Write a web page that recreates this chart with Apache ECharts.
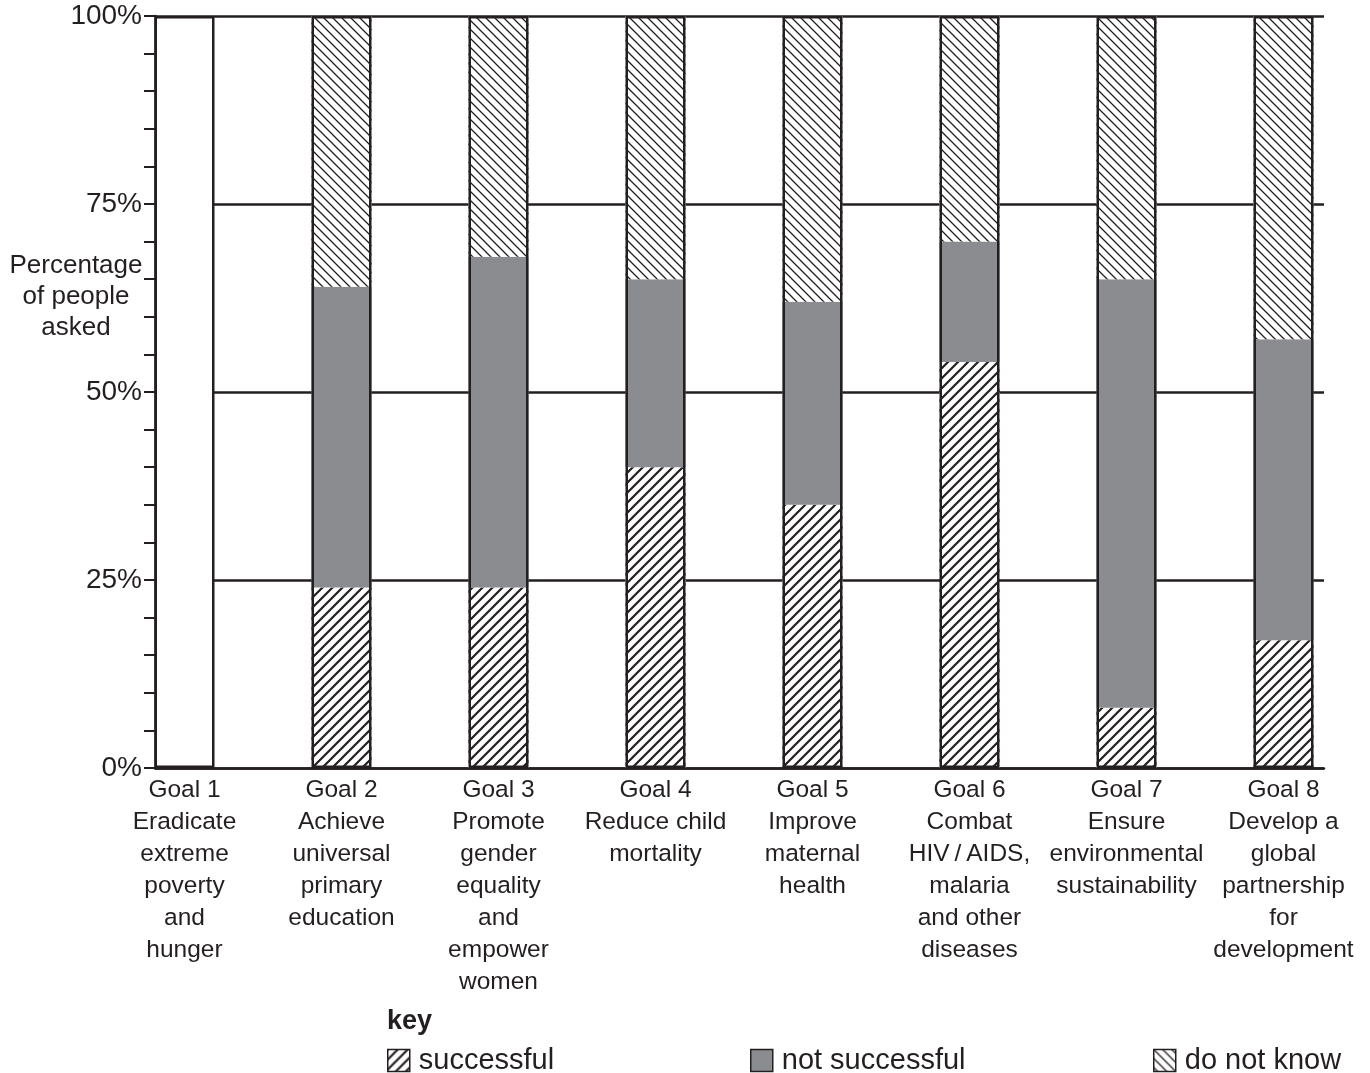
<!DOCTYPE html>
<html>
<head>
<meta charset="utf-8">
<script src="https://cdn.jsdelivr.net/npm/echarts@6/dist/echarts.min.js"></script>
<style>
html,body{margin:0;padding:0;background:#fff;}
#chart{width:1370px;height:1073px;}
</style>
</head>
<body>
<div id="chart"></div>
<script>
// ---- data ----
const categories = [
  'Goal 1\nEradicate\nextreme\npoverty\nand\nhunger',
  'Goal 2\nAchieve\nuniversal\nprimary\neducation',
  'Goal 3\nPromote\ngender\nequality\nand\nempower\nwomen',
  'Goal 4\nReduce child\nmortality',
  'Goal 5\nImprove\nmaternal\nhealth',
  'Goal 6\nCombat\nHIV\u2009/\u2009AIDS,\nmalaria\nand other\ndiseases',
  'Goal 7\nEnsure\nenvironmental\nsustainability',
  'Goal 8\nDevelop a\nglobal\npartnership\nfor\ndevelopment'
];
const successful    = [null, 24, 24, 40, 35, 54,  8, 17];
const notSuccessful = [null, 40, 44, 25, 27, 16, 57, 40];
const doNotKnow     = [null, 36, 32, 35, 38, 30, 35, 43];
const columnTotal   = [100, 100, 100, 100, 100, 100, 100, 100];
const seriesNames = ['successful', 'not successful', 'do not know'];
const yAxisTitle = 'Percentage\nof people\nasked';
const keyTitle = 'key';

// ---- styles ----
const INK = '#231f20';
const GRAY = '#8b8c8f';
const FONT = '"Liberation Sans", Arial, Helvetica, sans-serif';

function hatch(period, lw, up) {
  const c = document.createElement('canvas');
  c.width = period; c.height = period;
  const ctx = c.getContext('2d');
  ctx.fillStyle = '#fff';
  ctx.fillRect(0, 0, period, period);
  ctx.strokeStyle = INK;
  ctx.lineWidth = lw;
  ctx.beginPath();
  for (let k = -1; k <= 1; k++) {
    const x0 = k * period;
    if (up) { ctx.moveTo(x0 - 2, period + 2); ctx.lineTo(x0 + period + 2, -2); }
    else    { ctx.moveTo(x0 - 2, -2); ctx.lineTo(x0 + period + 2, period + 2); }
  }
  ctx.stroke();
  return { image: c, repeat: 'repeat' };
}
const hatchSuccess = hatch(10, 2.2, true);
const hatchUnknown = hatch(9, 1.3, false);

const chart = echarts.init(document.getElementById('chart'), null, { renderer: 'canvas' });

const legendCommon = {
  orient: 'horizontal', padding: 0, itemWidth: 22, itemHeight: 22, icon: 'rect',
  selectedMode: false,
  itemStyle: { borderColor: INK, borderWidth: 1.5 },
  textStyle: { fontSize: 29, color: INK, fontFamily: FONT, padding: [0, 0, 0, 4] }
};

const BAR_W = 60;

const option = {
  animation: false,
  backgroundColor: '#fff',
  title: {
    text: keyTitle, left: 387, top: 1008, padding: 0,
    textStyle: { fontSize: 27, fontWeight: 'bold', color: INK, fontFamily: FONT }
  },
  legend: [
    Object.assign({}, legendCommon, { data: [seriesNames[0]], left: 387, top: 1046 }),
    Object.assign({}, legendCommon, { data: [seriesNames[1]], left: 750, top: 1046 }),
    Object.assign({}, legendCommon, { data: [seriesNames[2]], left: 1153, top: 1046 })
  ],
  grid: [
    { left: 155, right: 46, top: 16, bottom: 305, containLabel: false, outerBoundsMode: 'none' },
    { left: 106, right: 8, top: 16, bottom: 305, containLabel: false, outerBoundsMode: 'none' }
  ],
  xAxis: [
    {
      gridIndex: 0, type: 'value', min: 0, max: 1,
      axisLine: { show: true, onZero: false, lineStyle: { color: INK, width: 2.5 } },
      axisTick: { show: false }, axisLabel: { show: false }, splitLine: { show: false }
    },
    {
      gridIndex: 1, type: 'category', data: categories,
      axisLine: { show: false }, axisTick: { show: false }, splitLine: { show: false },
      axisLabel: {
        interval: 0, fontSize: 24.5, lineHeight: 32, color: INK, fontFamily: FONT,
        margin: 6, align: 'center'
      }
    }
  ],
  yAxis: [
    {
      gridIndex: 0, type: 'value', min: 0, max: 100, interval: 25,
      axisLine: { show: true, onZero: false, lineStyle: { color: INK, width: 2.5 } },
      axisTick: { show: true, length: 11, lineStyle: { color: INK, width: 2 } },
      minorTick: { show: true, splitNumber: 5, length: 11, lineStyle: { color: INK, width: 2 } },
      axisLabel: { formatter: '{value}%', fontSize: 28, color: INK, fontFamily: FONT, margin: 13 },
      splitLine: { show: true, lineStyle: { color: INK, width: 2.5 } },
      minorSplitLine: { show: false }
    },
    { gridIndex: 1, type: 'value', min: 0, max: 100, show: false }
  ],
  graphic: [
    {
      type: 'text', x: 76, y: 297,
      style: {
        text: yAxisTitle, align: 'center', verticalAlign: 'middle',
        fontSize: 26, fontFamily: FONT, lineHeight: 31, fill: INK
      }
    }
  ],
  series: [
    {
      name: seriesNames[0], type: 'bar', xAxisIndex: 1, yAxisIndex: 1, stack: 'goal',
      data: successful, barWidth: BAR_W, itemStyle: { color: hatchSuccess }
    },
    {
      name: seriesNames[1], type: 'bar', xAxisIndex: 1, yAxisIndex: 1, stack: 'goal',
      data: notSuccessful, barWidth: BAR_W, itemStyle: { color: GRAY }
    },
    {
      name: seriesNames[2], type: 'bar', xAxisIndex: 1, yAxisIndex: 1, stack: 'goal',
      data: doNotKnow, barWidth: BAR_W, itemStyle: { color: hatchUnknown }
    },
    {
      name: 'outline', type: 'bar', xAxisIndex: 1, yAxisIndex: 1,
      data: columnTotal.map((v, i) => (successful[i] == null ? { value: v, itemStyle: { color: '#fff' } } : v)),
      barWidth: BAR_W, barGap: '-100%', z: 3, silent: true,
      itemStyle: { color: 'rgba(0,0,0,0)', borderColor: INK, borderWidth: 2.5 }
    }
  ]
};
chart.setOption(option);
</script>
</body>
</html>
